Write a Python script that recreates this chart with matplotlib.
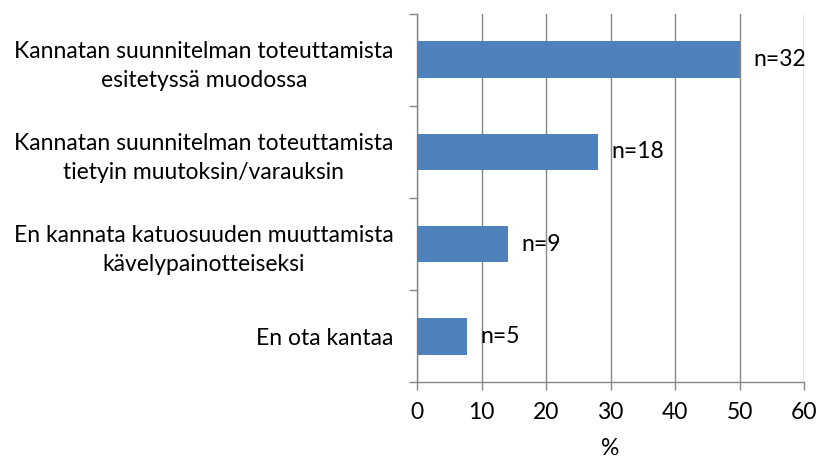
import matplotlib.pyplot as plt
import numpy as np

# --- Data ---
categories = [
    "Kannatan suunnitelman toteuttamista\nesitetyssä muodossa",
    "Kannatan suunnitelman toteuttamista\ntietyin muutoksin/varauksin",
    "En kannata katuosuuden muuttamista\nkävelypainotteiseksi",
    "En ota kantaa",
]
counts = [32, 18, 9, 5]
percents = [50.0, 28.1, 14.1, 7.8]
x_ticks = [0, 10, 20, 30, 40, 50, 60]

BAR_COLOR = "#4F81BD"
GRID_COLOR = "#868686"
FS = 16.5
plt.rcParams["font.family"] = ["Lato", "DejaVu Sans"]

fig = plt.figure(figsize=(8.18, 4.61), dpi=100)
ax = fig.add_axes([0.5098, 0.171, 0.4731, 0.799])

y = np.arange(len(categories))
ax.barh(y, percents, height=0.4, color=BAR_COLOR, zorder=3)

for yi, p, n in zip(y, percents, counts):
    ax.text(p + 2.1, yi, f"n={n}", va="center", ha="left", fontsize=FS, zorder=4)

ax.set_ylim(len(categories) - 0.5, -0.5)
ax.set_xlim(0, 60)
ax.set_xticks(x_ticks)
ax.set_xticklabels([str(t) for t in x_ticks], fontsize=FS)
ax.set_yticks(y)
ax.set_yticklabels(categories, fontsize=FS, multialignment="center", linespacing=1.45)
ax.set_yticks(np.arange(len(categories) + 1) - 0.5, minor=True)
ax.tick_params(axis="y", which="major", length=0, pad=17)
ax.tick_params(axis="y", which="minor", length=6, color=GRID_COLOR, width=1)
ax.tick_params(axis="x", which="major", length=6, color=GRID_COLOR, width=1, pad=8)
ax.set_xlabel("%", fontsize=FS, labelpad=11)

ax.grid(axis="x", color=GRID_COLOR, linewidth=1, zorder=0)
for side in ("top", "right"):
    ax.spines[side].set_visible(False)
for side in ("left", "bottom"):
    ax.spines[side].set_color(GRID_COLOR)
    ax.spines[side].set_linewidth(1)

fig.savefig("out.png", dpi=100)
